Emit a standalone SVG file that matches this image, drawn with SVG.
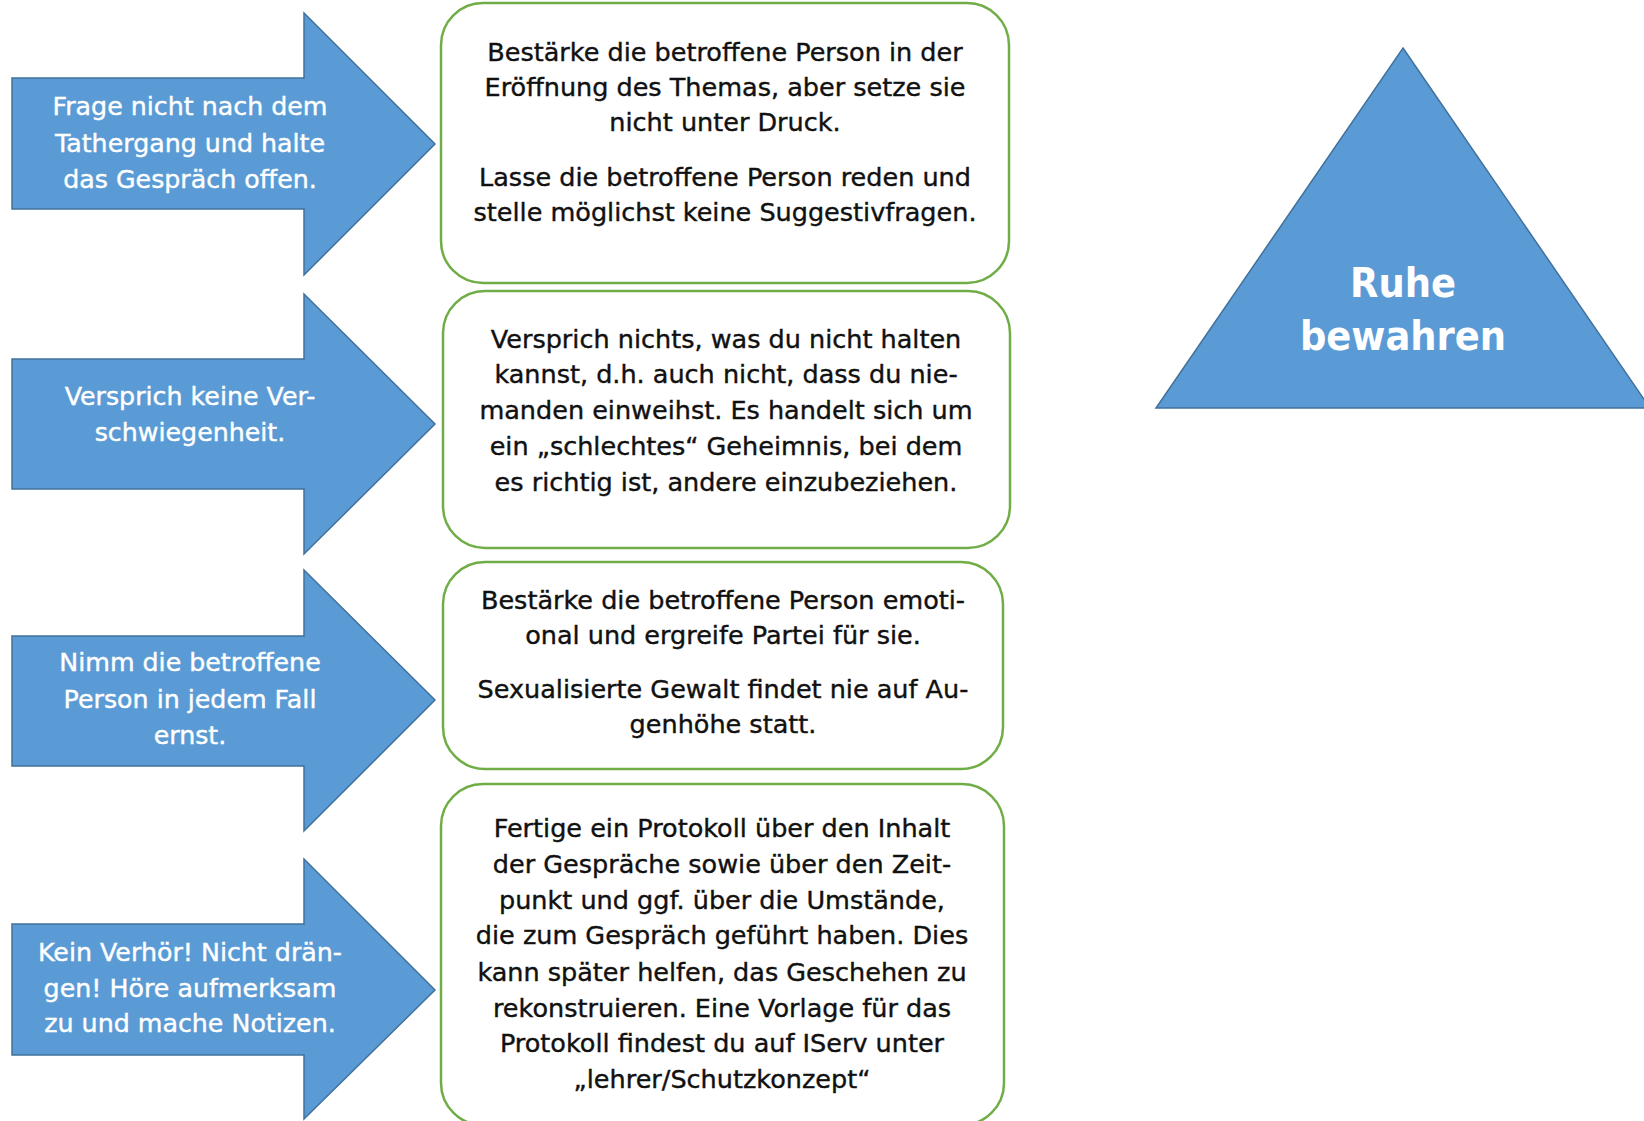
<svg xmlns="http://www.w3.org/2000/svg" width="1644" height="1121" viewBox="0 0 1644 1121">
<style>
.arrow{fill:#5B9BD5;stroke:#41719C;stroke-width:1.5}
.box{fill:#FFFFFF;stroke:#70AD47;stroke-width:2.5}
.at{font-family:"DejaVu Sans",Verdana,sans-serif;font-size:25.3px;fill:#FFFFFF;stroke:#FFFFFF;stroke-width:0.4;text-anchor:middle}
.bt{font-family:"DejaVu Sans",Verdana,sans-serif;font-size:25.5px;fill:#111111;stroke:#111111;stroke-width:0.4;text-anchor:middle}
.tt{font-family:"DejaVu Sans Condensed","DejaVu Sans",sans-serif;font-size:41px;font-weight:bold;fill:#FFFFFF;text-anchor:middle}
</style>
<rect width="1644" height="1121" fill="#FFFFFF"/>
<g id="arrow1">
<path class="arrow" d="M12,78 H304 V13 L435,144 L304,275 V209 H12 Z"/>
<text class="at" x="190" y="115">Frage nicht nach dem</text>
<text class="at" x="190" y="152">Tathergang und halte</text>
<text class="at" x="190" y="188">das Gespräch offen.</text>
</g>
<g id="arrow2">
<path class="arrow" d="M12,359 H304 V294 L435,424 L304,554 V489 H12 Z"/>
<text class="at" x="190" y="405">Versprich keine Ver-</text>
<text class="at" x="190" y="441">schwiegenheit.</text>
</g>
<g id="arrow3">
<path class="arrow" d="M12,636 H304 V570 L435,700 L304,831 V766 H12 Z"/>
<text class="at" x="190" y="671">Nimm die betroffene</text>
<text class="at" x="190" y="708">Person in jedem Fall</text>
<text class="at" x="190" y="744">ernst.</text>
</g>
<g id="arrow4">
<path class="arrow" d="M12,924 H304 V859 L435,990 L304,1119 V1055 H12 Z"/>
<text class="at" x="190" y="961">Kein Verhör! Nicht drän-</text>
<text class="at" x="190" y="997">gen! Höre aufmerksam</text>
<text class="at" x="190" y="1032">zu und mache Notizen.</text>
</g>
<g id="box1">
<rect class="box" x="441" y="3" width="568" height="280" rx="42" ry="42"/>
<text class="bt" x="725" y="61">Bestärke die betroffene Person in der</text>
<text class="bt" x="725" y="96">Eröffnung des Themas, aber setze sie</text>
<text class="bt" x="725" y="131">nicht unter Druck.</text>
<text class="bt" x="725" y="186">Lasse die betroffene Person reden und</text>
<text class="bt" x="725" y="221">stelle möglichst keine Suggestivfragen.</text>
</g>
<g id="box2">
<rect class="box" x="443" y="291" width="567" height="257" rx="42" ry="42"/>
<text class="bt" x="726" y="348">Versprich nichts, was du nicht halten</text>
<text class="bt" x="726" y="383">kannst, d.h. auch nicht, dass du nie-</text>
<text class="bt" x="726" y="419">manden einweihst. Es handelt sich um</text>
<text class="bt" x="726" y="455">ein „schlechtes“ Geheimnis, bei dem</text>
<text class="bt" x="726" y="491">es richtig ist, andere einzubeziehen.</text>
</g>
<g id="box3">
<rect class="box" x="443" y="562" width="560" height="207" rx="42" ry="42"/>
<text class="bt" x="723" y="609">Bestärke die betroffene Person emoti-</text>
<text class="bt" x="723" y="644">onal und ergreife Partei für sie.</text>
<text class="bt" x="723" y="698">Sexualisierte Gewalt findet nie auf Au-</text>
<text class="bt" x="723" y="733">genhöhe statt.</text>
</g>
<g id="box4">
<rect class="box" x="441" y="784" width="563" height="341" rx="42" ry="42"/>
<text class="bt" x="722" y="837">Fertige ein Protokoll über den Inhalt</text>
<text class="bt" x="722" y="873">der Gespräche sowie über den Zeit-</text>
<text class="bt" x="722" y="909">punkt und ggf. über die Umstände,</text>
<text class="bt" x="722" y="944">die zum Gespräch geführt haben. Dies</text>
<text class="bt" x="722" y="981">kann später helfen, das Geschehen zu</text>
<text class="bt" x="722" y="1017">rekonstruieren. Eine Vorlage für das</text>
<text class="bt" x="722" y="1052">Protokoll findest du auf IServ unter</text>
<text class="bt" x="722" y="1088">„lehrer/Schutzkonzept“</text>
</g>
<g id="triangle">
<path class="arrow" d="M1403,48 L1650,408 L1156,408 Z"/>
<text class="tt" x="1403" y="297">Ruhe</text>
<text class="tt" x="1403" y="350">bewahren</text>
</g>
<g id="connectors"></g>
</svg>
